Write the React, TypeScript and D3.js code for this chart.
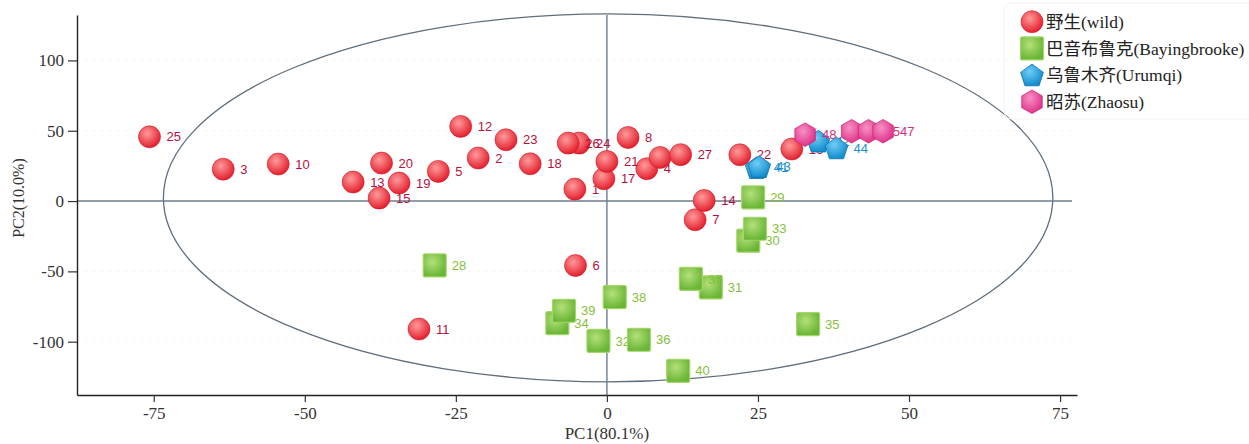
import React, { useEffect, useRef } from 'react'
import * as d3 from 'd3'

// PCA scores
const wildIds = [1, 2, 3, 4, 5, 6, 7, 8, 9, 10, 11, 12, 13, 14, 15, 16, 17, 18, 19, 20, 21, 22, 23, 24, 25, 26, 27]
const wildPC1 = [-5.3, -21.3, -63.5, 6.6, -27.9, -5.2, 14.6, 3.5, 8.8, -54.4, -31.1, -24.2, -42.0, 16.1, -37.7, 30.6, -0.5, -12.7, -34.4, -37.3, 0.0, 22.0, -16.7, -4.6, -75.7, -6.4, 12.2]
const wildPC2 = [8.5, 30.6, 22.7, 23.0, 21.1, -45.8, -13.3, 45.2, 31.0, 26.3, -91.0, 53.1, 13.5, 0.4, 2.1, 37.0, 15.9, 26.5, 12.8, 27.0, 28.2, 32.9, 43.6, 41.2, 45.7, 41.2, 33.0]

const bayinIds = [28, 29, 30, 31, 32, 33, 34, 35, 36, 37, 38, 39, 40]
const bayinPC1 = [-28.5, 24.2, 23.4, 17.2, -1.4, 24.5, -8.2, 33.3, 5.3, 13.9, 1.3, -7.1, 11.8]
const bayinPC2 = [-45.8, 2.6, -28.2, -61.4, -99.4, -19.7, -86.8, -87.5, -98.6, -55.3, -68.3, -78.0, -120.7]

const urumqiIds = [41, 42, 43, 44]
const urumqiPC1 = [24.8, 35.0, 25.2, 38.0]
const urumqiPC2 = [23.7, 42.5, 24.4, 37.7]

const zhaosuIds = [48, 46, 45, 47]
const zhaosuPC1 = [32.8, 40.5, 43.3, 45.7]
const zhaosuPC2 = [47.2, 49.6, 49.6, 49.6]

const groupNames = ['野生(wild)', '巴音布鲁克(Bayingbrooke)', '乌鲁木齐(Urumqi)', '昭苏(Zhaosu)']

const xTicks = [-75, -50, -25, 0, 25, 50, 75]
const yTicks = [-100, -50, 0, 50, 100]

// confidence ellipse (data units)
const ellipseCenter = [0.2, 2.3]
const ellipseRadii = [73.6, 130.8]

const styles = [
  { shape: 'circle', light: '#ff9a9a', dark: '#e3202e', stroke: '#d01a28', label: '#b5123e' },
  { shape: 'square', light: '#b4e07a', dark: '#69b535', stroke: '#a5d66a', label: '#86c13a' },
  { shape: 'pentagon', light: '#6fcdf5', dark: '#128ccd', stroke: '#0e74ad', label: '#1a8fd0' },
  { shape: 'hexagon', light: '#f791c4', dark: '#e0338a', stroke: '#c92a7a', label: '#d0307a' },
]

function polygon(n: number, r: number) {
  const pts: string[] = []
  for (let i = 0; i < n; i++) {
    const a = -Math.PI / 2 + (i * 2 * Math.PI) / n
    pts.push((r * Math.cos(a)).toFixed(2) + ',' + (r * Math.sin(a)).toFixed(2))
  }
  return 'M' + pts.join('L') + 'Z'
}

function drawMarker(g: any, shape: string, idx: number) {
  const fill = 'url(#grad' + idx + ')'
  const stroke = styles[idx].stroke
  if (shape === 'circle') {
    g.append('circle').attr('r', 11).attr('fill', fill).attr('stroke', stroke).attr('stroke-width', 0.6)
  } else if (shape === 'square') {
    g.append('rect').attr('x', -11.5).attr('y', -11.5).attr('width', 23).attr('height', 23)
      .attr('rx', 1.5).attr('fill', fill).attr('stroke', stroke).attr('stroke-width', 1.2)
  } else if (shape === 'pentagon') {
    g.append('path').attr('d', polygon(5, 12)).attr('transform', 'translate(0,1)')
      .attr('fill', fill).attr('stroke', stroke).attr('stroke-width', 0.8).attr('stroke-linejoin', 'round')
  } else {
    g.append('path').attr('d', polygon(6, 11.8))
      .attr('fill', fill).attr('stroke', stroke).attr('stroke-width', 0.8).attr('stroke-linejoin', 'round')
  }
}

export default function App() {
  const ref = useRef<SVGSVGElement>(null)

  useEffect(() => {
    const svg = d3.select(ref.current)
    svg.selectAll('*').remove()

    const left = 77, right = 1077, top = 15, bottom = 395
    const x = d3.scaleLinear().domain([-87.7, 77.8]).range([left, right])
    const y = d3.scaleLinear().domain([-137.9, 132.3]).range([bottom, top])

    const defs = svg.append('defs')
    styles.forEach((s, i) => {
      const grad = defs.append('radialGradient').attr('id', 'grad' + i)
        .attr('cx', '40%').attr('cy', '35%').attr('r', '65%')
      grad.append('stop').attr('offset', '0%').attr('stop-color', s.light)
      grad.append('stop').attr('offset', '100%').attr('stop-color', s.dark)
    })

    // faint grid
    const grid = svg.append('g').attr('stroke', '#f0f0f0').attr('stroke-dasharray', '2,6')
    yTicks.forEach(t => {
      grid.append('line').attr('x1', left).attr('x2', right).attr('y1', y(t)).attr('y2', y(t))
    })

    // ellipse
    svg.append('ellipse')
      .attr('cx', x(ellipseCenter[0])).attr('cy', y(ellipseCenter[1]))
      .attr('rx', x(ellipseRadii[0]) - x(0)).attr('ry', y(0) - y(ellipseRadii[1]))
      .attr('fill', 'none').attr('stroke', '#5f6e7c').attr('stroke-width', 1.3)

    // zero lines
    svg.append('line').attr('x1', left).attr('x2', right - 5).attr('y1', y(0)).attr('y2', y(0))
      .attr('stroke', '#6d7e8e').attr('stroke-width', 1.4)
    svg.append('line').attr('x1', x(0)).attr('x2', x(0)).attr('y1', top).attr('y2', bottom)
      .attr('stroke', '#6d7e8e').attr('stroke-width', 1.4)

    // axes
    const fmt = (d: any) => String(d)
    const xAxis = svg.append('g').attr('transform', 'translate(0,' + bottom + ')')
      .call(d3.axisBottom(x).tickValues(xTicks).tickSize(7).tickSizeOuter(0).tickFormat(fmt))
    const yAxis = svg.append('g').attr('transform', 'translate(' + left + ',0)')
      .call(d3.axisLeft(y).tickValues(yTicks).tickSize(9).tickSizeOuter(0).tickFormat(fmt))
    ;[xAxis, yAxis].forEach(a => {
      a.select('.domain').attr('stroke', '#222').attr('stroke-width', 1.4)
      a.selectAll('.tick line').attr('stroke', '#333').attr('stroke-width', 1.2)
      a.selectAll('.tick text').attr('fill', '#333')
        .style('font-family', '"Liberation Serif", serif').style('font-size', '17px')
    })
    xAxis.selectAll('.tick text').attr('y', 12)
    yAxis.selectAll('.tick text').attr('x', -13)

    svg.append('text').attr('x', x(0)).attr('y', 439).attr('text-anchor', 'middle')
      .attr('fill', '#333').style('font-family', '"Liberation Serif", serif').style('font-size', '17px')
      .text('PC1(80.1%)')
    svg.append('text').attr('transform', 'translate(24,198) rotate(-90)').attr('text-anchor', 'middle')
      .attr('fill', '#333').style('font-family', '"Liberation Serif", serif').style('font-size', '16px')
      .text('PC2(10.0%)')

    // points, drawn marker then label in order
    const groups = [
      { ids: wildIds, pc1: wildPC1, pc2: wildPC2 },
      { ids: bayinIds, pc1: bayinPC1, pc2: bayinPC2 },
      { ids: urumqiIds, pc1: urumqiPC1, pc2: urumqiPC2 },
      { ids: zhaosuIds, pc1: zhaosuPC1, pc2: zhaosuPC2 },
    ]
    const plot = svg.append('g')
    groups.forEach((grp, gi) => {
      grp.ids.forEach((id, i) => {
        const pg = plot.append('g').attr('transform', 'translate(' + x(grp.pc1[i]) + ',' + y(grp.pc2[i]) + ')')
        drawMarker(pg, styles[gi].shape, gi)
        pg.append('text').attr('x', 17).attr('dy', '0.36em').attr('fill', styles[gi].label)
          .style('font-family', '"Liberation Sans", sans-serif').style('font-size', '13px')
          .text(id)
      })
    })

    // legend
    const legend = svg.append('g')
    legend.append('rect').attr('x', 1004).attr('y', 3).attr('width', 270).attr('height', 116).attr('rx', 8)
      .attr('fill', 'none').attr('stroke', '#f2f2f2')
    groupNames.forEach((name, i) => {
      const ly = 21.7 + i * 26.7
      const lg = legend.append('g').attr('transform', 'translate(1032,' + ly + ')')
      drawMarker(lg, styles[i].shape, i)
      legend.append('text').attr('x', 1046).attr('y', ly).attr('dy', '0.35em').attr('fill', '#222')
        .style('font-family', '"Liberation Serif", "Noto Sans CJK SC", serif').style('font-size', '17.5px')
        .text(name)
    })
  }, [])

  return (
    <div style={{ position: 'absolute', left: 0, top: 0 }}>
      <svg ref={ref} width={1249} height={444} style={{ display: 'block', background: '#fff' }}></svg>
    </div>
  )
}
